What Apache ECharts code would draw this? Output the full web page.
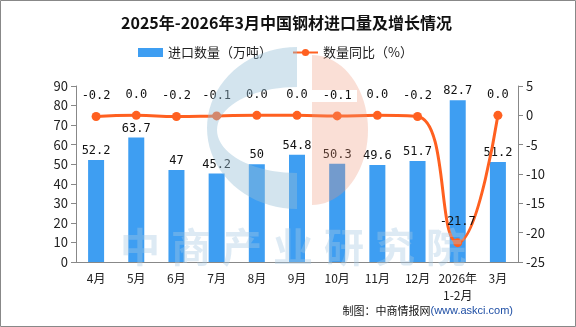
<!DOCTYPE html>
<html><head><meta charset="utf-8">
<script src="https://cdn.jsdelivr.net/npm/echarts@6/dist/echarts.min.js"></script>
<style>html,body{margin:0;padding:0;background:#fff}#c{width:576px;height:327px}</style>
</head><body><div id="c"></div>
<script>
const categories = ['4月','5月','6月','7月','8月','9月','10月','11月','12月','2026年\n1-2月','3月'];
const volume = [52.2, 63.7, 47, 45.2, 50, 54.8, 50.3, 49.6, 51.7, 82.7, 51.2];
const yoy = [-0.2, 0.0, -0.2, -0.1, 0.0, 0.0, -0.1, 0.0, -0.2, -21.7, 0.0];
const leftTicks = {min: 0, max: 90, interval: 10};
const rightTicks = {min: -25, max: 5, interval: 5};
const watermarkChars = ['中', '商', '产', '业', '研', '究', '院'];

const cjk = "'Noto Sans CJK SC', 'Noto Sans', sans-serif";
const mono = "'DejaVu Sans Mono', monospace";

// watermark logo outlines (decoration only)
function arcPts(cx, cy, rx, ry, a0, a1, n) {
  const pts = [];
  for (let i = 0; i <= n; i++) {
    const a = a0 + (a1 - a0) * i / n;
    pts.push([cx + rx * Math.cos(a), cy + ry * Math.sin(a)]);
  }
  return pts;
}
const blueLogo = arcPts(297, 128, 90, 81, -Math.PI / 2, -Math.PI * 1.5, 40)
  .concat(arcPts(297, 130, 80, 43, Math.PI / 2, Math.PI * 1.5, 40));
const pinkLogo = arcPts(312, 130, 56, 75, -Math.PI / 2, Math.PI / 2, 40)
  .concat([[312, 102], [357, 102], [357, 90], [312, 90]]);

const wmText = watermarkChars.map((ch, i) => ({
  type: 'text', z: 100, silent: true, x: 120 + i * 51, y: 227,
  style: {text: ch, font: "bold 40px 'Noto Sans CJK SC'", fill: 'rgba(165,200,225,0.38)'}
}));

const chart = echarts.init(document.getElementById('c'));
chart.setOption({
  animation: false,
  title: {
    text: '2025年-2026年3月中国钢材进口量及增长情况',
    left: 116, top: 10,
    textStyle: {fontFamily: cjk, fontSize: 16, fontWeight: 'bold', color: '#111'}
  },
  legend: {
    top: 41, left: 133, itemGap: 20,
    itemWidth: 25, itemHeight: 9,
    textStyle: {fontFamily: cjk, fontSize: 13, color: '#222'},
    data: [
      {name: '进口数量（万吨）', icon: 'rect'},
      {name: '数量同比（%）'}
    ]
  },
  grid: {left: 76, right: 58, top: 86, bottom: 65},
  xAxis: {
    type: 'category', data: categories,
    axisLine: {lineStyle: {color: '#888'}},
    axisTick: {lineStyle: {color: '#888'}},
    axisLabel: {fontFamily: cjk, fontSize: 12, color: '#222', margin: 8, lineHeight: 17, interval: 0}
  },
  yAxis: [
    {type: 'value', min: leftTicks.min, max: leftTicks.max, interval: leftTicks.interval,
     splitLine: {show: false},
     axisLine: {show: true, lineStyle: {color: '#888'}},
     axisTick: {show: true, lineStyle: {color: '#888'}},
     axisLabel: {fontFamily: cjk, fontSize: 13, color: '#222'}},
    {type: 'value', min: rightTicks.min, max: rightTicks.max, interval: rightTicks.interval,
     splitLine: {show: false},
     axisLine: {show: true, lineStyle: {color: '#888'}},
     axisTick: {show: true, lineStyle: {color: '#888'}},
     axisLabel: {fontFamily: cjk, fontSize: 13, color: '#222'}}
  ],
  series: [
    {name: '进口数量（万吨）', type: 'bar', data: volume, barWidth: 16,
     itemStyle: {color: '#3e9ef2'},
     label: {show: true, position: 'top', distance: 3, fontFamily: mono, fontSize: 12, color: '#111'}},
    {name: '数量同比（%）', type: 'line', yAxisIndex: 1, data: yoy, smooth: true,
     symbol: 'circle', symbolSize: 9,
     lineStyle: {color: '#ff6020', width: 3},
     itemStyle: {color: '#ff6020'},
     label: {show: true, position: 'top', distance: 10, fontFamily: mono, fontSize: 12, color: '#111',
       formatter: p => Number(p.value).toFixed(1)}}
  ],
  graphic: [
    {type: 'polygon', z: 100, silent: true, shape: {points: blueLogo},
     style: {fill: 'rgba(150,190,215,0.42)'}},
    {type: 'polygon', z: 100, silent: true, shape: {points: pinkLogo},
     style: {fill: 'rgba(240,150,120,0.3)'}}
  ].concat(wmText).concat([
    {type: 'text', right: 63, top: 305,
     style: {rich: {a: {fontFamily: cjk, fontSize: 11, fill: '#111'}, b: {fontFamily: "'Liberation Sans', sans-serif", fontSize: 11, fill: '#1f4fa5'}},
       text: '{a|制图：中商情报网}{b|(www.askci.com)}'}},
    {type: 'rect', z: 200, silent: true, shape: {x: 0.5, y: 0.5, width: 575, height: 326},
     style: {fill: 'none', stroke: '#888', lineWidth: 1}}
  ])
});
</script></body></html>
